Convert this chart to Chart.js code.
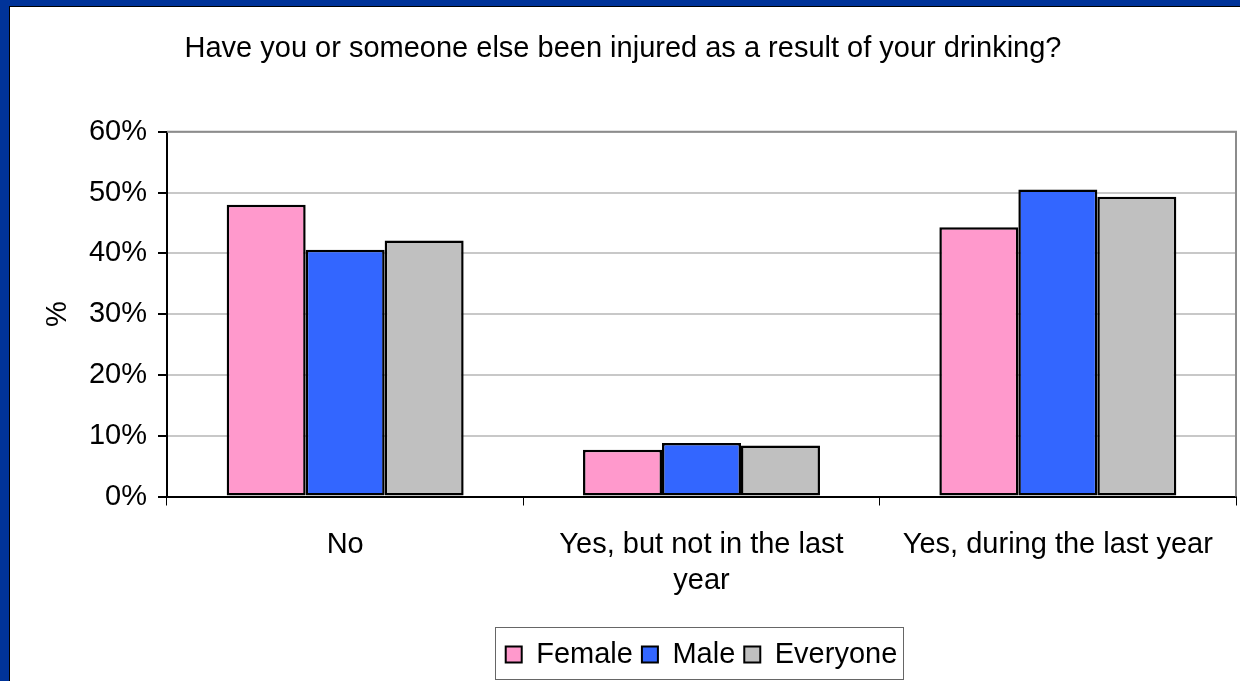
<!DOCTYPE html>
<html>
<head>
<meta charset="utf-8">
<script src="https://cdn.jsdelivr.net/npm/chart.js@4.4.1/dist/chart.umd.min.js"></script>
<style>
  html, body { margin: 0; padding: 0; background: #003399; overflow: hidden; }
  #frame {
    position: absolute; left: 9px; top: 6px; width: 1230px; height: 674px;
    background: #fff; border-left: 1px solid #000; border-top: 1px solid #000;
  }
  #chart { display: block; }
</style>
</head>
<body>
<div id="frame"><canvas id="chart" width="1230" height="674"></canvas></div>
<script>
  const categories = ['No', ['Yes, but not in the last', 'year'], 'Yes, during the last year'];
  const female = [48.0, 7.7, 44.3];
  const male = [40.6, 8.8, 50.5];
  const everyone = [42.1, 8.4, 49.3];
  const chartTitle = 'Have you or someone else been injured as a result of your drinking?';

  const font = { family: 'Arial, "Liberation Sans", sans-serif', size: 29 };

  // grey frame round the plot, legend box outline
  const framePlugin = {
    id: 'frame',
    beforeDatasetsDraw(chart) {
      const a = chart.chartArea, ctx = chart.ctx;
      ctx.save();
      ctx.strokeStyle = '#8c8c8c';
      ctx.lineWidth = 2;
      ctx.beginPath();
      ctx.moveTo(a.left, a.top);
      ctx.lineTo(a.right, a.top);
      ctx.lineTo(a.right, a.bottom);
      ctx.stroke();
      ctx.restore();
    },
    afterDraw(chart) {
      const boxes = chart.legend.legendHitBoxes;
      if (!boxes || !boxes.length) return;
      const first = boxes[0], last = boxes[boxes.length - 1];
      const ctx = chart.ctx;
      const x0 = first.left - 11, x1 = last.left + last.width + 5;
      const y0 = first.top - 13, y1 = first.top + first.height + 10;
      ctx.save();
      ctx.strokeStyle = '#666';
      ctx.lineWidth = 1;
      ctx.strokeRect(Math.round(x0) + 0.5, Math.round(y0) + 0.5, Math.round(x1 - x0), Math.round(y1 - y0));
      ctx.restore();
    }
  };

  const barStyle = {
    borderColor: '#000',
    borderWidth: 2.5,
    borderSkipped: false,
    barPercentage: 1,
    categoryPercentage: 0.665
  };

  const ctx = document.getElementById('chart').getContext('2d');
  const chart = new Chart(ctx, {
    type: 'bar',
    data: {
      labels: categories,
      datasets: [
        { label: 'Female', data: female, backgroundColor: '#FF99CC', ...barStyle },
        { label: 'Male', data: male, backgroundColor: '#3366FF', ...barStyle },
        { label: 'Everyone', data: everyone, backgroundColor: '#C0C0C0', ...barStyle }
      ]
    },
    options: {
      responsive: false,
      animation: false,
      devicePixelRatio: 1,
      layout: { padding: { left: 0, right: 4, top: 0, bottom: 2 } },
      plugins: {
        title: {
          display: true,
          text: chartTitle,
          color: '#000',
          font: { ...font, weight: 'normal' },
          padding: { top: 25, bottom: 65 }
        },
        legend: {
          position: 'bottom',
          fullSize: false,
          labels: {
            color: '#000',
            font: font,
            boxWidth: 16,
            boxHeight: 16,
            padding: 9,
            generateLabels(chart) {
              return chart.data.datasets.map((ds, i) => ({
                text: ds.label,
                fillStyle: ds.backgroundColor,
                strokeStyle: '#000',
                lineWidth: 2,
                fontColor: '#000',
                datasetIndex: i
              }));
            }
          }
        },
        tooltip: { enabled: false }
      },
      scales: {
        x: {
          grid: {
            offset: true,
            drawOnChartArea: false,
            color: '#000',
            tickColor: '#000',
            tickLength: 9
          },
          border: { color: '#000', width: 2 },
          ticks: {
            color: '#000',
            font: { ...font, lineHeight: 1.25 },
            padding: 21,
            maxRotation: 0,
            autoSkip: false
          },
          afterFit(scale) { scale.height = 134.5; }
        },
        y: {
          min: 0,
          max: 60,
          grid: {
            color: '#c8c8c8',
            tickColor: '#000',
            tickLength: 9,
            lineWidth: 2
          },
          border: { color: '#000', width: 2 },
          ticks: {
            stepSize: 10,
            color: '#000',
            font: font,
            padding: 11,
            callback: v => v + '%'
          },
          title: {
            display: true,
            text: '%',
            color: '#000',
            font: font,
            padding: { top: 31, bottom: 0 }
          },
          afterFit(scale) { scale.width = 157; }
        }
      }
    },
    plugins: [framePlugin]
  });
</script>
</body>
</html>
